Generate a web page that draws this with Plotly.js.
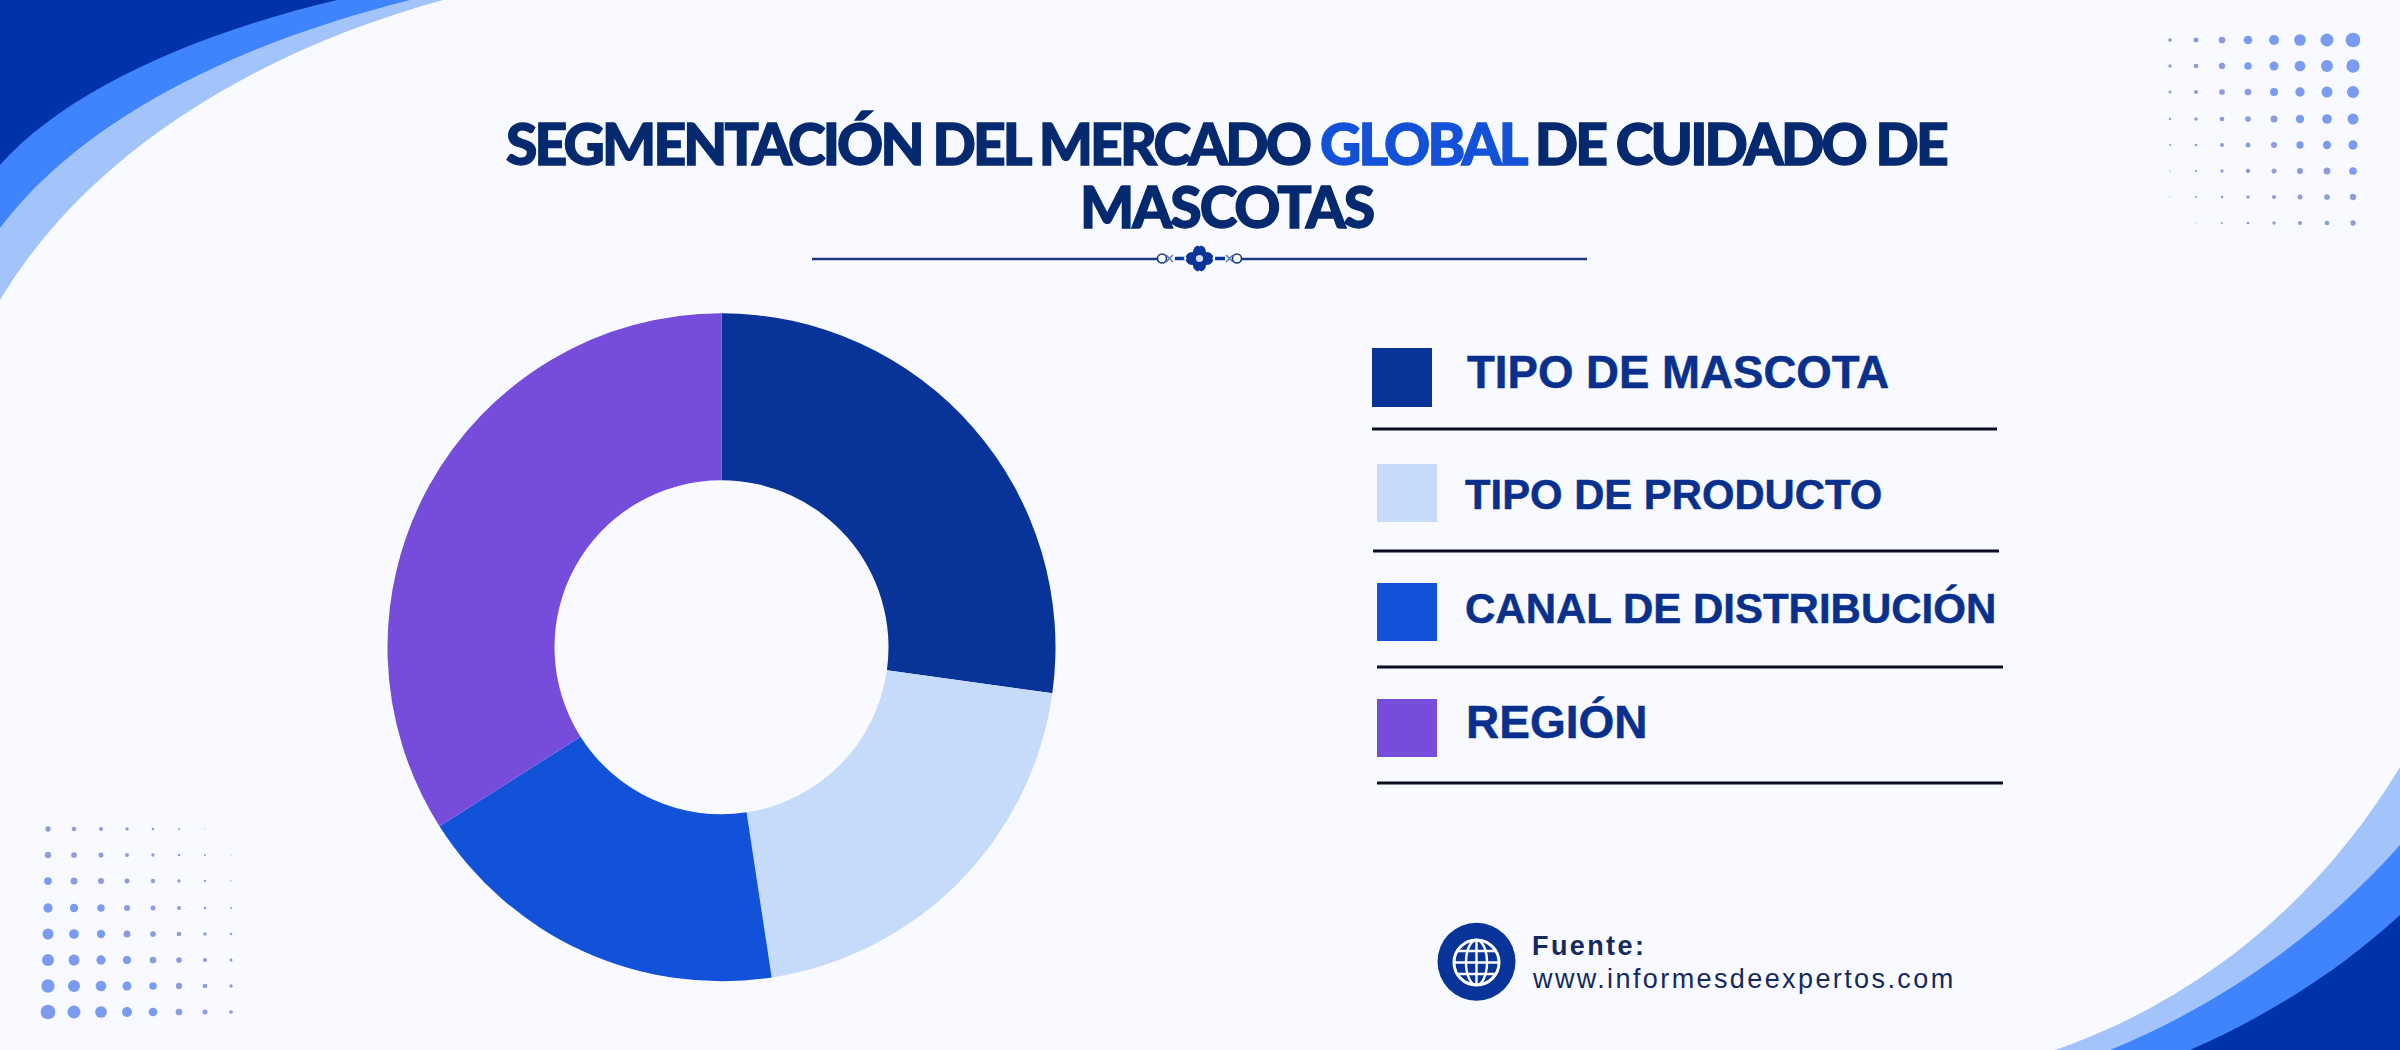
<!DOCTYPE html>
<html>
<head>
<meta charset="utf-8">
<script src="https://cdn.plot.ly/plotly-3.0.1.min.js"></script>
<style>
  html,body{margin:0;padding:0;background:#f8faff;}
  #chart{width:2400px;height:1050px;}
</style>
</head>
<body>
<div id="chart"></div>
<script>
// datos del donut
const categories = ['TIPO DE MASCOTA','TIPO DE PRODUCTO','CANAL DE DISTRIBUCIÓN','REGIÓN'];
const shares = [27.2, 20.4, 18.4, 34.0];
const sliceColors = ['#08349a','#c5dbf9','#1252d8','#764cdb'];

// decoracion: malla de puntos (diametros en px, fila a fila)
const dotCols = [2170,2196,2222,2248,2274,2300,2327,2353];
const dotRows = [40,66,92,119,145,171,197,223];
const dotCols2 = [48,74,101,127,153,179,205,231];
const dotRows2 = [829,855,881,908,934,960,986,1012];
const dotSizes = [
  [3.7,5,6.7,8.7,10,11.7,13,14.7],
  [3.3,4.7,6.3,7.5,9,10.7,12,13.3],
  [3,4,5.7,6.7,8,9.3,11,12],
  [2.5,3.5,4.7,5.7,7,8.3,9.7,11],
  [2,2.7,4,5,6,7.3,8.3,9.3],
  [1.3,2.3,3.3,4.3,5,6,7,7.7],
  [1,2,2.7,3.3,4,5,5.7,6.3],
  [0.7,1,2,2.7,3.3,4,4.7,5.3]
];

const ink = '#04296f';
const legendInk = '#08308c';
const bg = '#f8faff';

const px = [], py = [], ps = [], pc = [];
dotRows.forEach((y,r)=>{
  dotCols.forEach((x,c)=>{
    const s = dotSizes[r][c];
    px.push(x); py.push(y); ps.push(s); pc.push(s>7 ? '#7a9bef' : '#8b9ddb');
    // la malla de abajo es la misma girada 180 grados
    px.push(dotCols2[7-c]); py.push(dotRows2[7-r]); ps.push(s); pc.push(s>7 ? '#7a9bef' : '#8b9ddb');
  });
});

const traces = [
  {
    type:'scatter', mode:'markers', x:px, y:py, hoverinfo:'skip', showlegend:false,
    marker:{size:ps, color:pc, opacity:1, line:{width:0}}
  },
  {
    type:'pie', labels:categories, values:shares, hole:0.5, sort:false,
    direction:'clockwise', rotation:0, textinfo:'none', showlegend:false,
    marker:{colors:sliceColors, line:{width:0}},
    domain:{x:[387.5/2400,1055.5/2400], y:[1-981.5/1050,1-313/1050]}
  }
];

function rect(x0,y0,x1,y1,color){
  return {type:'rect',xref:'x',yref:'y',x0,y0,x1,y1,fillcolor:color,line:{width:0},layer:'below'};
}
function hline(x0,x1,y,color,w){
  return {type:'line',xref:'x',yref:'y',x0,x1,y0:y,y1:y,line:{color,width:w},layer:'below'};
}
function ell(cx,cy,rx,ry,fill,stroke,w){
  return {type:'circle',xref:'x',yref:'y',x0:cx-rx,x1:cx+rx,y0:cy-ry,y1:cy+ry,
    fillcolor:fill,line:{color:stroke||fill,width:w||0},layer:'below'};
}
function circle(cx,cy,r,fill,stroke,w){
  return ell(cx,cy,r,r,fill,stroke,w);
}
function path(d,fill){
  return {type:'path',xref:'x',yref:'y',path:d,fillcolor:fill,line:{width:0},layer:'below'};
}

const shapes = [
  // esquina superior izquierda
  path('M0,0 L443,0 C260,50 90,150 0,300 Z','#a3c3fb'),
  path('M0,0 L410,0 C230,45 80,122 0,228 Z','#3f84fd'),
  path('M0,0 L337,0 C190,35 65,92 0,165 Z','#0033aa'),
  // esquina inferior derecha
  path('M2055,1050 C2200,1000 2320,900 2400,767 L2400,1050 Z','#a3c3fb'),
  path('M2110,1050 C2220,1005 2320,935 2400,845 L2400,1050 Z','#3f84fd'),
  path('M2190,1050 C2270,1015 2340,970 2400,915 L2400,1050 Z','#0033aa'),

  // separador del titulo
  hline(812,1157,259,'#1b3a7e',2.5),
  hline(1242,1587,259,'#1b3a7e',2.5),
  hline(1175,1185,258.5,'#08349a',3.5),
  hline(1215,1225,258.5,'#08349a',3.5),
  circle(1162,258.5,4.5,'rgba(0,0,0,0)','#1b3a7e',1.6),
  circle(1237,258.5,4.5,'rgba(0,0,0,0)','#1b3a7e',1.6),
  {type:'line',xref:'x',yref:'y',x0:1166,x1:1173,y0:255,y1:262,line:{color:'#5a74ad',width:1.4},layer:'below'},
  {type:'line',xref:'x',yref:'y',x0:1166,x1:1173,y0:262,y1:255,line:{color:'#5a74ad',width:1.4},layer:'below'},
  {type:'line',xref:'x',yref:'y',x0:1226,x1:1233,y0:255,y1:262,line:{color:'#5a74ad',width:1.4},layer:'below'},
  {type:'line',xref:'x',yref:'y',x0:1226,x1:1233,y0:262,y1:255,line:{color:'#5a74ad',width:1.4},layer:'below'},
  ell(1199.5,251.8,6.5,6.5,'#08349a'),
  ell(1199.5,265.2,6.5,6.5,'#08349a'),
  ell(1192,258.5,6.5,6.5,'#08349a'),
  ell(1207,258.5,6.5,6.5,'#08349a'),
  // muesca en la punta de cada petalo
  circle(1199.5,245,1.4,bg),
  circle(1199.5,272,1.4,bg),
  circle(1185.2,258.5,1.4,bg),
  circle(1213.8,258.5,1.4,bg),
  circle(1199.5,258.5,3.6,'#d7e0f2'),

  // leyenda
  rect(1372,348,1432,407,sliceColors[0]),
  rect(1377,464,1437,522,sliceColors[1]),
  rect(1377,583,1437,641,sliceColors[2]),
  rect(1377,699,1437,757,sliceColors[3]),
  hline(1372,1997,429,'#0b0d22',3),
  hline(1373,1999,551,'#0b0d22',3),
  hline(1377,2003,667,'#0b0d22',3),
  hline(1377,2003,783,'#0b0d22',3),

  // icono del globo
  circle(1476.5,961.7,39,'#08349a'),
  circle(1476.5,962.5,22.5,'rgba(0,0,0,0)','#ffffff',3),
  ell(1476.5,962.5,10.5,22.5,'rgba(0,0,0,0)','#ffffff',2.4),
  {type:'line',xref:'x',yref:'y',x0:1476.5,x1:1476.5,y0:940,y1:985,line:{color:'#ffffff',width:2.4},layer:'below'},
  hline(1454,1499,962.5,'#ffffff',2.4),
  hline(1458,1495,951,'#ffffff',2.4),
  hline(1458,1495,974,'#ffffff',2.4)
];

function label(text,x,y,size,color,weight,family){
  return {xref:'x',yref:'y',x,y,text,showarrow:false,xanchor:'left',yanchor:'middle',align:'left',
    font:{family:family||'"Liberation Sans", Arial, sans-serif',size,color,weight:weight||700}};
}

const titleFont = {family:'Lato, sans-serif',size:57,color:ink,weight:900};
// el tipo original es mas estrecho y mas grueso
const heavy = 'letter-spacing:-2px;stroke:'+ink+';stroke-width:1.3px';
const heavyTop = 'letter-spacing:-2.85px;stroke:'+ink+';stroke-width:1.3px';
const heavyBlue = 'letter-spacing:-2.85px;fill:#1352d8;stroke:#1352d8;stroke-width:1.3px';
const legendStroke = 'stroke:'+legendInk+';stroke-width:0.5px';

const annotations = [
  {xref:'x',yref:'y',x:1227,y:206,text:'<span style="'+heavy+'">MASCOTAS</span>',showarrow:false,xanchor:'center',yanchor:'middle',font:titleFont},
  label('<span style="'+legendStroke+'">TIPO DE MASCOTA</span>',1465,372,45.6,legendInk),
  label('<span style="'+legendStroke+'">TIPO DE PRODUCTO</span>',1463,494,41.8,legendInk),
  label('<span style="'+legendStroke+'">CANAL DE DISTRIBUCIÓN</span>',1463,608,42,legendInk),
  label('<span style="'+legendStroke+'">REGIÓN</span>',1464,722,46,legendInk),
  label('<span style="letter-spacing:2.4px">Fuente:</span>',1530,946,27,'#14295e'),
  label('<span style="letter-spacing:2.4px">www.informesdeexpertos.com</span>',1530,979,27,'#14295e',400)
];

const layout = {
  width:2400, height:1050,
  margin:{t:0,r:0,b:0,l:0,pad:0},
  paper_bgcolor:bg,
  plot_bgcolor:'rgba(0,0,0,0)',
  showlegend:false,
  hovermode:false,
  title:{
    text:'<span style="'+heavyTop+'">SEGMENTACIÓN DEL MERCADO </span><span style="'+heavyBlue+'">GLOBAL</span><span style="'+heavyTop+'"> DE CUIDADO DE</span>',
    font:titleFont, x:1226/2400, xanchor:'center', xref:'paper',
    y:1-145/1050, yanchor:'middle', yref:'paper'
  },
  xaxis:{range:[0,2400],visible:false,fixedrange:true,domain:[0,1]},
  yaxis:{range:[1050,0],visible:false,fixedrange:true,domain:[0,1]},
  shapes, annotations
};

Plotly.newPlot('chart', traces, layout, {displayModeBar:false, responsive:false});
</script>
</body>
</html>
